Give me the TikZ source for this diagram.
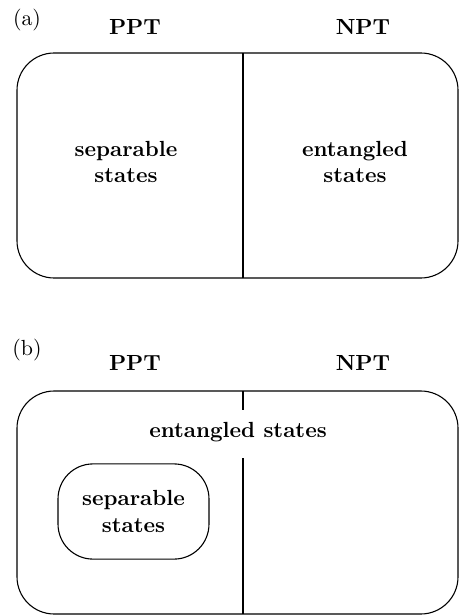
\documentclass[tikz,border=0pt]{standalone}
\begin{document}
\begin{tikzpicture}[x=0.457pt,y=-0.457pt]
        \useasboundingbox (0,0) rectangle (459,616);

        % panel labels
        \node (a) at (27,20)  {(a)};
        \node (b) at (27,350) {(b)};

        \begin{scope}[every node/.style={font=\bfseries,align=center}]
          \node (ppta) at (135,27)  {PPT};
          \node (npta) at (363,27)  {NPT};
          \node (sepa) at (126,162) {separable\\states};
          \node (enta) at (355,162) {entangled\\states};
          \node (pptb) at (135,363) {PPT};
          \node (nptb) at (363,363) {NPT};
          \node (entb) at (238,432) {entangled states};
          \node[draw,line width=0.5pt,rounded corners=16pt,
                minimum width=69pt,minimum height=43.5pt] (sepb) at (133.5,511.5) {separable\\states};
        \end{scope}

        \coordinate (atop) at (243,53);
        \coordinate (abot) at (243,278);
        \coordinate (btop) at (243,391);
        \coordinate (bmid) at (243,410);
        \coordinate (bgap) at (243,458);
        \coordinate (bbot) at (243,614);

        \begin{scope}[line width=0.5pt]
          \draw[rounded corners=17pt] (17,53) rectangle (458,278);
          \draw[rounded corners=17pt] (17,391) rectangle (458,614);
          \draw (atop) -- (abot);
          \draw (btop) -- (bmid);
          \draw (bgap) -- (bbot);
        \end{scope}

      \end{tikzpicture}
\end{document}
